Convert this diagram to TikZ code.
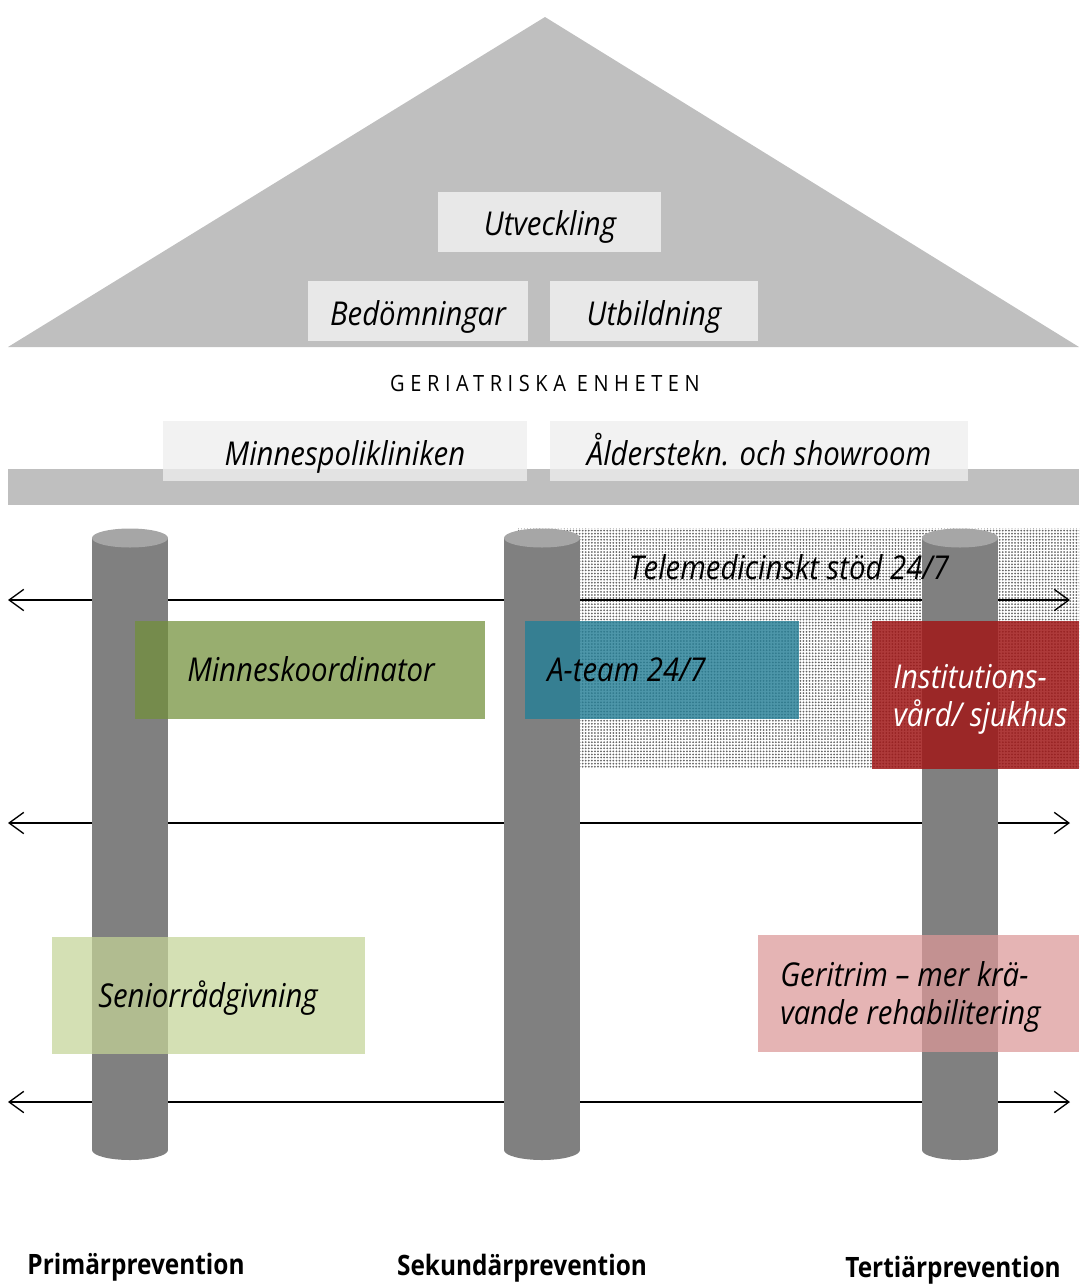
\documentclass[tikz,border=0pt]{standalone}
\usepackage{fontspec}
\setmainfont{Open Sans}
\usepackage{graphicx}
\usepackage{xcolor}
\usetikzlibrary{patterns,patterns.meta,arrows.meta}

\definecolor{roofgray}{HTML}{BFBFBF}
\definecolor{roofbox}{HTML}{E8E8E8}
\definecolor{polibox}{HTML}{EEEEEE}
\definecolor{pillargray}{HTML}{808080}
\definecolor{pillartop}{HTML}{A6A6A6}
\definecolor{koordgreen}{HTML}{72903A}
\definecolor{ateamblue}{HTML}{267F96}
\definecolor{instred}{HTML}{A01818}
\definecolor{seniorgreen}{HTML}{C4D497}
\definecolor{geripink}{HTML}{DC9898}

\newcommand{\tall}[1]{\scalebox{1}[1.12]{#1}}

\begin{document}
\begin{tikzpicture}[x=0.75pt,y=-0.75pt,
  lbl/.style={font=\fontsize{22}{26}\selectfont\itshape, inner sep=0pt},
  prev/.style={font=\fontsize{18.3}{21}\selectfont\bfseries, inner sep=0pt},
  >={Straight Barb[length=11pt,width=16pt]}]
\useasboundingbox (0,0) rectangle (1079,1285);

% tak
\fill [roofgray] (8,347) -- (545,17) -- (1079,347) -- cycle;
\fill [roofbox] (438,192) rectangle (661,252); % Utveckling
\fill [roofbox] (308,281) rectangle (528,341); % Bedomningar
\fill [roofbox] (550,281) rectangle (758,341); % Utbildning
\node [lbl, anchor=base] (utv) at (550,235) {\tall{Utveckling}};
\node [lbl, anchor=base] (bed) at (418,325) {\tall{Bedömningar}};
\node [lbl, anchor=base] (utb) at (654,325) {\tall{Utbildning}};

\node [anchor=base, inner sep=0pt, font=\fontsize{15}{18}\selectfont\addfontfeature{LetterSpace=28}] (ger) at (545,391) {\tall{GERIATRISKA ENHETEN}};

% balk
\fill [roofgray] (8,469) rectangle (1079,505);
\fill [polibox, opacity=.77] (163,421) rectangle (527,481); % Minnespol
\fill [polibox, opacity=.77] (550,421) rectangle (968,481); % Alderstekn
\node [lbl, anchor=base] (minnpol) at (345,465) {\tall{Minnespolikliniken}};
\node [lbl, anchor=base] (alder) at (759,465) {\tall{Ålderstekn. och showroom}};

% telemedicin
\fill [pattern={Dots[distance=2.3pt,radius=0.75pt]}, pattern color=black!60] (518,528) rectangle (1079,768);

% pilar
\coordinate (a1w) at (8,600);   \coordinate (a1e) at (1070,600);
\coordinate (a2w) at (8,823);   \coordinate (a2e) at (1070,823);
\coordinate (a3w) at (8,1102);  \coordinate (a3e) at (1070,1102);
\draw [<->, line width=1pt] (a1w) -- (a1e);
\draw [<->, line width=1pt] (a2w) -- (a2e);
\draw [<->, line width=1pt] (a3w) -- (a3e);

% pelare
\foreach \cx in {130,542,960} {
  \fill [pillargray] (\cx-38,538) rectangle (\cx+38,1150);
  \fill [pillargray] (\cx,1150) ellipse (38 and 10);
  \fill [pillartop] (\cx,538) ellipse (38 and 9.5);
}

% rutor
\fill [koordgreen, opacity=.73] (135,621) rectangle (485,719);
\fill [ateamblue, opacity=.82] (525,621) rectangle (799,719);
\fill [instred, opacity=.85] (872,621) rectangle (1079,769);
\fill [seniorgreen, opacity=.72] (52,937) rectangle (365,1054);
\fill [geripink, opacity=.73] (758,935) rectangle (1079,1052);

\node [lbl, anchor=base] (tele) at (789,579) {\tall{Telemedicinskt stöd 24/7}};
\node [lbl, anchor=base west] (koord) at (187,681) {\tall{Minneskoordinator}};
\node [lbl, anchor=base west] (ateam) at (547,681) {\tall{A-team 24/7}};
\node [lbl, anchor=base west, white] (inst) at (893,688) {\tall{\begin{tabular}[t]{@{}l@{}}Institutions-\\vård/ sjukhus\end{tabular}}};
\node [lbl, anchor=base west] (senior) at (98,1007) {\tall{Seniorrådgivning}};
\node [lbl, anchor=base west] (geri) at (780,986) {\tall{\begin{tabular}[t]{@{}l@{}}Geritrim – mer krä-\\vande rehabilitering\end{tabular}}};

% prevention
\node [prev, anchor=base] (prim) at (136,1274) {\scalebox{1}[1.15]{Primärprevention}};
\node [prev, anchor=base] (sek) at (522,1275) {\scalebox{1}[1.15]{Sekundärprevention}};
\node [prev, anchor=base] (ter) at (953,1277) {\scalebox{1}[1.15]{Tertiärprevention}};

\end{tikzpicture}
\end{document}
